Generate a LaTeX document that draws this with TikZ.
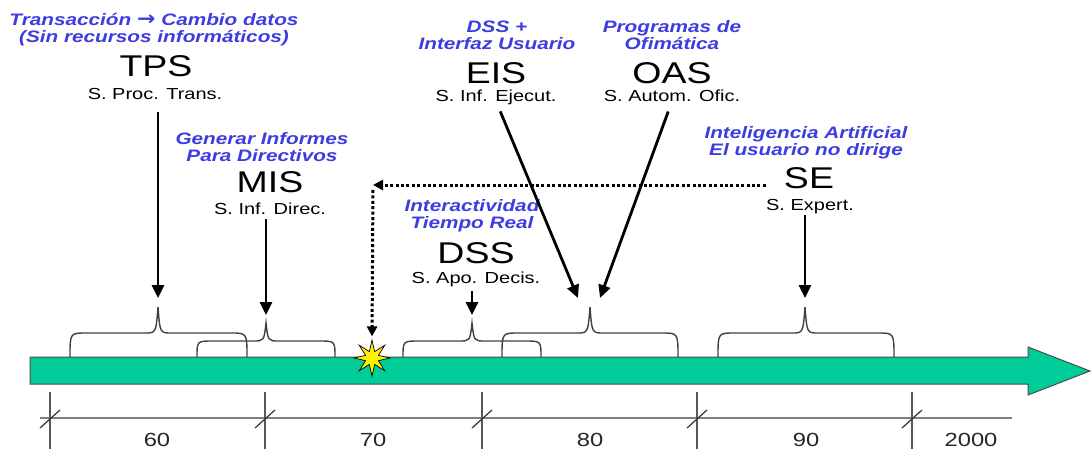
\documentclass[tikz,border=0pt]{standalone}
\usepackage{fontspec}
\setmainfont{Liberation Sans}[FakeStretch=1.25]
\newfontfamily\flechafont{DejaVu Sans}[FakeStretch=1.1]
\usetikzlibrary{arrows.meta,positioning,shapes.geometric}

\definecolor{verdeeje}{RGB}{0,204,153}
\definecolor{azulnota}{RGB}{60,60,225}

% llave: x izq, x der, x punta, y linea, y punta
\newcommand{\llave}[5]{%
  \draw[llave] (#1,357) .. controls (#1,#4) .. (#1+16,#4) -- (#3-13,#4)
    .. controls (#3-2,#4) .. (#3,#5)
    .. controls (#3+2,#4) .. (#3+13,#4) -- (#2-16,#4)
    .. controls (#2,#4) .. (#2,357);}

\begin{document}
\begin{tikzpicture}[x=1pt, y=-1pt,
    >={Triangle[length=13pt,width=12pt]},
    sigla/.style={font=\fontsize{30}{32}\selectfont, inner sep=0pt, anchor=base},
    nombre/.style={font=\fontsize{16}{18}\selectfont, inner sep=0pt, anchor=base, text depth=0pt},
    nota/.style={font=\bfseries\itshape\fontsize{16.6}{17}\selectfont, text=azulnota, align=center, inner sep=0pt, anchor=north},
    anio/.style={font=\fontsize{19}{21}\selectfont, text=black!85, inner sep=0pt, anchor=base},
    flecha/.style={->, line width=2.8pt},
    punteada/.style={-{Triangle[length=10pt,width=10pt]}, line width=3pt, dash pattern=on 3pt off 2.4pt},
    llave/.style={line width=1.4pt, draw=black!75}
]
    \useasboundingbox (0,0) rectangle (1092,451);

    % eje del tiempo
    \draw[draw=black!70, fill=verdeeje, line width=1pt]
        (30,357) -- (1028,357) -- (1028,347) -- (1090,371) -- (1028,395) -- (1028,384) -- (30,384) -- cycle;

    \draw[gray, line width=1.2pt] (40,418) -- (1012,418);
    \foreach \x in {50,265,482,697,912} {
        \draw[black!65, line width=1.2pt] (\x,392) -- (\x,449);
        \draw[black!80, line width=1.2pt] (\x-10,428) -- (\x+10,410);
    }
    \foreach \t/\x in {60/157, 70/373, 80/590, 90/806, 2000/971}
        \node[anio] (a\t) at (\x,446) {\t};

    % llaves
    \llave{70}{247}{158}{333}{307}
    \llave{197}{335}{266}{341}{323}
    \llave{403}{541}{472}{341}{323}
    \llave{502}{678}{590}{333}{307}
    \llave{718}{894}{805}{333}{307}

    % sistemas
    \node[nota] (TPSd) at (154,13) {Transacción {\flechafont\bfseries\fontsize{20}{17}\selectfont →} Cambio datos\\(Sin recursos informáticos)};
    \node[sigla] (TPS) at (156,76.7) {TPS};
    \node[nombre] (TPSn) at (155,99) {S. Proc. Trans.};

    \node[nota] (MISd) at (262,132) {Generar Informes\\Para Directivos};
    \node[sigla] (MIS) at (270,192.5) {MIS};
    \node[nombre] (MISn) at (270,214) {S. Inf. Direc.};

    \node[nota] (DSSd) at (472,199.5) {Interactividad\\Tiempo Real};
    \node[sigla] (DSS) at (476,263.5) {DSS};
    \node[nombre] (DSSn) at (476,283) {S. Apo. Decis.};

    \node[nota] (EISd) at (497,20.5) {DSS +\\Interfaz Usuario};
    \node[sigla] (EIS) at (496,83.3) {EIS};
    \node[nombre] (EISn) at (496,101) {S. Inf. Ejecut.};

    \node[nota] (OASd) at (672,20.5) {Programas de\\Ofimática};
    \node[sigla] (OAS) at (672,83.3) {OAS};
    \node[nombre] (OASn) at (672,101) {S. Autom. Ofic.};

    \node[nota] (SEd) at (806,126.5) {Inteligencia Artificial\\El usuario no dirige};
    \node[sigla] (SE) at (809,188) {SE};
    \node[nombre] (SEn) at (810,210) {S. Expert.};

    \node[star, star points=8, star point ratio=2.6, minimum size=36pt, inner sep=0pt,
        fill=yellow, draw=black, line width=0.7pt] (chispa) at (372,358) {};

    % puntas de flecha
    \coordinate (esquina) at (373,185);
    \coordinate (fTPS) at (158,298);
    \coordinate (fMIS) at (266,315);
    \coordinate (fDSS) at (472,315);
    \coordinate (fEIS) at (578,298);
    \coordinate (fOAS) at (600,298);
    \coordinate (fSE) at (805,298);

    \draw[flecha, shorten <=13pt] (TPSn.south -| fTPS) -- (fTPS);
    \draw[flecha, shorten <=5pt] (MISn.south -| fMIS) -- (fMIS);
    \draw[flecha, shorten <=8pt] (DSSn.south -| fDSS) -- (fDSS);
    \draw[flecha, shorten <=11pt] (EISn.south) -- (fEIS);
    \draw[flecha, shorten <=11pt] (OASn.south) -- (fOAS);
    \draw[flecha, shorten <=5pt] (SEn.south -| fSE) -- (fSE);

    \draw[punteada, shorten <=18pt] (SE.west |- esquina) -- (esquina);
    \draw[punteada, shorten <=5pt, shorten >=2pt] (esquina) -- (chispa.north);
\end{tikzpicture}
\end{document}
